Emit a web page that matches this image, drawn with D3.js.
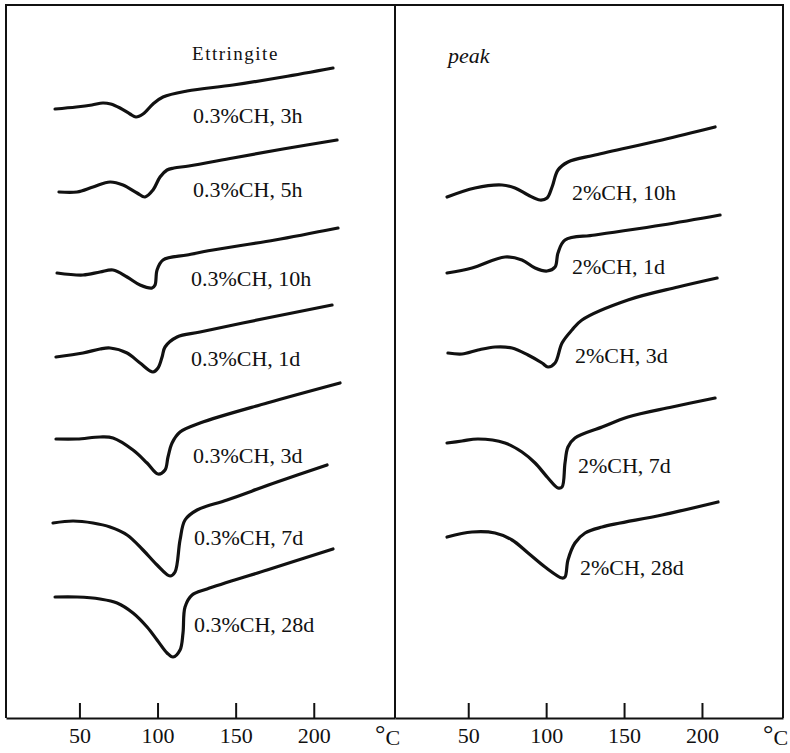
<!DOCTYPE html>
<html>
<head>
<meta charset="utf-8">
<script src="https://cdn.jsdelivr.net/npm/d3@7"></script>
<style>
  body { margin: 0; background: #fff; }
  text { font-family: "Liberation Serif", "Times New Roman", serif; fill: #111; }
</style>
</head>
<body>
<div id="chart"></div>
<script>
// temperature axis ticks (°C)
const tempTicks = [50, 100, 150, 200];

// DTA traces, [temperature °C, signal (arb. units)]
// left panel: 0.3% CH
const left3h  = [[34.4,609],[48,611],[58,613],[65,615],[70,614],[76,610],[82.4,604],[86.2,601],[90.7,604],[97.1,614],[103.5,621],[118.9,627],[148.3,633],[180.3,641],[212.3,650]];
const left5h  = [[36.9,526],[48.5,526],[58.7,531],[69.6,536],[77.9,533],[86.9,525],[92.0,521],[97.1,528],[101.6,541],[106.1,548],[110.5,550],[120,552],[148.3,560],[180.3,569],[214.9,578]];
const left10h = [[35.7,445],[52.3,443],[63.2,446],[71.5,448],[80.5,441],[88.8,433],[96.5,430],[98.4,433],[99.7,448],[103.5,458],[118.9,463],[135.5,468],[175.2,478],[215.5,490]];
const left1d  = [[35.0,361],[52.3,365],[63.2,369],[69.6,370],[80.5,365],[88.8,355],[97.1,346],[100.3,350],[102.9,361],[104.8,371],[112.5,381],[127.2,386],[170.1,400],[211.7,413]];
const left3d  = [[35.0,279],[48.5,279],[63.2,281],[71.5,280],[84.3,268],[93.3,255],[100.3,244],[104.8,248],[106.7,261],[109.3,275],[114.4,286],[127.2,295],[170.1,315],[216.8,335]];
const left7d  = [[33.1,195],[45.9,197],[58.7,195],[69.6,191],[80.5,183],[90.7,168],[99.7,153],[108.0,142],[111.2,146],[114.4,178],[117.6,198],[125.3,208],[144.5,218],[176.5,236],[208.5,253]];
const left28d = [[34.4,121],[48.5,121],[63.2,119],[74.1,115],[84.3,105],[93.3,91],[99.7,78],[106.1,65],[109.9,61],[114.4,68],[116.3,85],[117.6,111],[122.1,123],[131.7,129],[170.1,148],[212.3,169]];

// right panel: 2% CH
const right10h = [[36.4,521],[54.3,530],[71.7,533],[80.0,530],[88.4,523],[96.1,518],[100.6,520],[103.8,531],[107.6,548],[114.0,556],[131.4,563],[174.4,578],[208.4,591]];
const right1d  = [[36.4,445],[52.4,450],[73.6,461],[84.5,458],[92.9,450],[100.6,447],[105.7,451],[107.6,465],[112.1,478],[131.4,483],[174.4,493],[211.6,503]];
const right3d  = [[37.0,365],[46.0,364],[56.3,368],[67.2,371],[78.1,370],[88.4,363],[97.4,355],[101.2,351],[105.7,355],[110.2,375],[116.6,388],[123.0,398],[152.5,418],[184.6,431],[209.7,440]];
const right7d  = [[36.4,275],[46.0,277],[56.3,279],[73.6,275],[84.5,266],[92.9,255],[101.2,240],[107.6,230],[110.2,231],[112.1,255],[114.0,271],[118.5,280],[135.9,291],[152.5,301],[180.8,311],[208.4,320]];
const right28d = [[36.4,181],[52.4,186],[67.2,185],[78.1,178],[88.4,165],[99.3,151],[110.2,140],[112.1,141],[114.0,158],[118.5,175],[125.0,185],[135.9,191],[174.4,203],[210.3,216]];

// curve labels and where they sit [temperature, signal]
const leftLabels  = ["0.3%CH, 3h", "0.3%CH, 5h", "0.3%CH, 10h", "0.3%CH, 1d", "0.3%CH, 3d", "0.3%CH, 7d", "0.3%CH, 28d"];
const leftLabelAt = [[122.7,595],[122.7,521],[121.4,432],[121.4,352],[122.7,255],[123.3,173],[123.3,86]];
const rightLabels  = ["2%CH, 10h", "2%CH, 1d", "2%CH, 3d", "2%CH, 7d", "2%CH, 28d"];
const rightLabelAt = [[116.6,518],[116.6,444],[118.5,355],[120.4,245],[121.7,143]];

// header notes
const notes   = ["Ettringite", "peak"];
const notesAt = [[122.1,658],[37.0,655]];

const width = 790, height = 753;
const axisY = 718, topY = 5;

const svg = d3.select("#chart").append("svg")
  .attr("width", width)
  .attr("height", height);

const y = d3.scaleLinear().domain([0, 713]).range([axisY, topY]);

const panels = [
  { x: d3.scaleLinear().domain([3, 252]).range([6, 395]),   series: [left3h, left5h, left10h, left1d, left3d, left7d, left28d],
    labels: leftLabels, labelAt: leftLabelAt },
  { x: d3.scaleLinear().domain([3, 252]).range([395, 783]), series: [right10h, right1d, right3d, right7d, right28d],
    labels: rightLabels, labelAt: rightLabelAt }
];

panels.forEach((p, i) => {
  const g = svg.append("g");
  const [x0, x1] = p.x.range();

  // frame: top, left and right sides
  g.append("path")
    .attr("d", `M${x0},${axisY} V${topY} H${x1} V${axisY}`)
    .attr("fill", "none")
    .attr("stroke", "#111")
    .attr("stroke-width", 2);

  // temperature axis with inward ticks
  const axis = d3.axisBottom(p.x)
    .tickValues(tempTicks)
    .tickSizeInner(-15)
    .tickSizeOuter(0)
    .tickPadding(9);

  const ax = g.append("g")
    .attr("transform", `translate(0,${axisY})`)
    .call(axis);
  ax.select(".domain").attr("stroke", "#111").attr("stroke-width", 2);
  ax.selectAll(".tick line").attr("stroke", "#111").attr("stroke-width", 2);
  ax.selectAll(".tick text")
    .style("font-family", '"Liberation Serif", serif')
    .style("font-size", "22px")
    .attr("fill", "#111");

  // unit
  const unit = g.append("text")
    .attr("x", p.x(239.2))
    .attr("y", axisY + 27)
    .style("font-size", "22px");
  unit.append("tspan").attr("dy", -3).style("font-size", "26px").text("°");
  unit.append("tspan").attr("dy", 3).text("C");

  // traces
  const line = d3.line()
    .x(d => p.x(d[0]))
    .y(d => y(d[1]))
    .curve(d3.curveCatmullRom.alpha(0.5));

  g.selectAll("path.trace")
    .data(p.series)
    .join("path")
      .attr("class", "trace")
      .attr("d", line)
      .attr("fill", "none")
      .attr("stroke", "#111")
      .attr("stroke-width", 3.2)
      .attr("stroke-linecap", "round")
      .attr("stroke-linejoin", "round");

  g.selectAll("text.lbl")
    .data(p.labels)
    .join("text")
      .attr("class", "lbl")
      .attr("x", (d, j) => p.x(p.labelAt[j][0]))
      .attr("y", (d, j) => y(p.labelAt[j][1]))
      .style("font-size", "22px")
      .text(d => d);

  // header note
  svg.append("text")
    .attr("x", p.x(notesAt[i][0]))
    .attr("y", y(notesAt[i][1]))
    .style("font-size", i === 0 ? "19px" : "22px")
    .style("font-style", i === 0 ? "normal" : "italic")
    .style("letter-spacing", i === 0 ? "1.5px" : "0px")
    .text(notes[i]);
});
</script>
</body>
</html>
